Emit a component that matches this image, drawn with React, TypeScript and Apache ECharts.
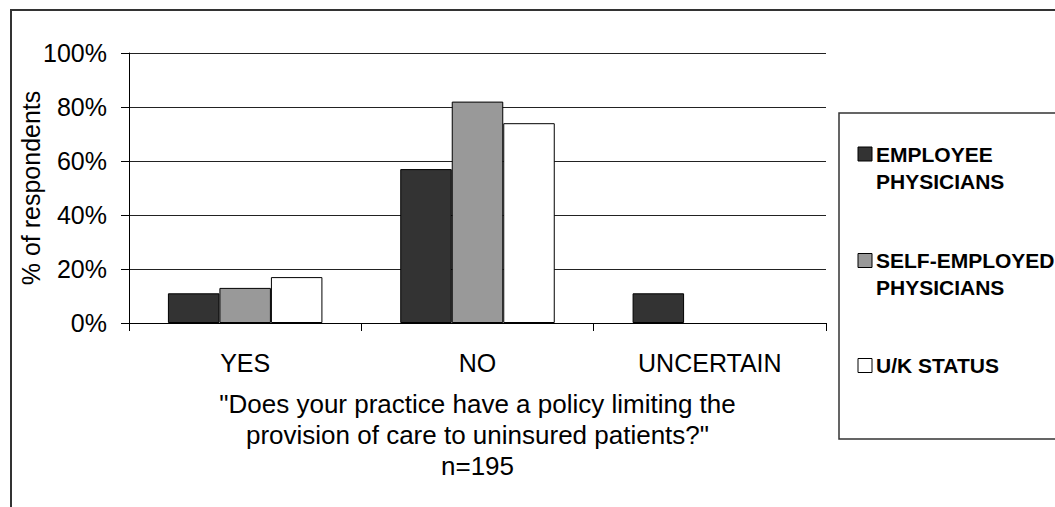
import React, { useEffect, useRef } from "react";
import * as echarts from "echarts";

const categories = ["YES", "NO", "UNCERTAIN"];
const seriesNames = ["EMPLOYEE PHYSICIANS", "SELF-EMPLOYED PHYSICIANS", "U/K STATUS"];
const legendLines = [["EMPLOYEE", "PHYSICIANS"], ["SELF-EMPLOYED", "PHYSICIANS"], ["U/K STATUS"]];
const employeeValues = [11, 57, 11];
const selfEmployedValues = [13, 82, null];
const unknownValues = [17, 74, null];
const yTicks = [0, 20, 40, 60, 80, 100];
const xTitle = '"Does your practice have a policy limiting the\nprovision of care to uninsured patients?"\nn=195';
const yTitle = "% of respondents";

const colors = ["#333333", "#999999", "#ffffff"];
const FONT = "'Liberation Sans', Arial, sans-serif";

export default function App() {
  const ref = useRef<HTMLDivElement>(null);
  useEffect(() => {
    if (!ref.current) return;
    const chart = echarts.init(ref.current, undefined, { renderer: "svg" });
    const values = [employeeValues, selfEmployedValues, unknownValues];

    const legendY = [[154, 181], [260.5, 287.5], [365.5]];
    const legendGraphics: any[] = [];
    legendLines.forEach((lines, i) => {
      legendGraphics.push({
        type: "rect",
        shape: { x: 858, y: legendY[i][0] - 7, width: 14, height: 14 },
        style: { fill: colors[i], stroke: "#000", lineWidth: 1 },
      });
      lines.forEach((t, j) => {
        legendGraphics.push({
          type: "text",
          x: 876,
          y: legendY[i][j],
          style: {
            text: t,
            fill: "#000",
            font: `bold 21px ${FONT}`,
            textAlign: "left",
            textVerticalAlign: "middle",
          },
        });
      });
    });

    chart.setOption({
      animation: false,
      backgroundColor: "#fff",
      textStyle: { fontFamily: FONT },
      grid: { left: 129, right: 229, top: 53, bottom: 184, containLabel: false },
      xAxis: {
        type: "category",
        data: categories,
        axisLine: { lineStyle: { color: "#000", width: 1 } },
        axisTick: { show: true, length: 8, lineStyle: { color: "#000" } },
        axisLabel: { color: "#000", fontSize: 25, margin: 27, fontFamily: FONT },
        name: xTitle,
        nameLocation: "middle",
        nameGap: 65,
        nameMoveOverlap: false,
        nameTextStyle: { color: "#000", fontSize: 26, lineHeight: 31, fontFamily: FONT, align: "center", verticalAlign: "top" },
      },
      yAxis: {
        type: "value",
        min: 0,
        max: 100,
        interval: 20,
        axisLine: { show: true, lineStyle: { color: "#000", width: 1 } },
        axisTick: { show: true, length: 8, lineStyle: { color: "#000" } },
        axisLabel: {
          color: "#000",
          fontSize: 25,
          margin: 22,
          fontFamily: FONT,
          formatter: (v: number) => (yTicks.includes(v) ? `${v}%` : ""),
        },
        splitLine: { show: true, lineStyle: { color: "#222", width: 1 } },
        name: yTitle,
        nameLocation: "middle",
        nameGap: 86,
        nameRotate: 90,
        nameMoveOverlap: false,
        nameTextStyle: { color: "#000", fontSize: 25, fontFamily: FONT },
      },
      series: seriesNames.map((name, i) => ({
        name,
        type: "bar",
        data: values[i],
        barGap: "0%",
        barCategoryGap: "33.5%",
        itemStyle: { color: colors[i], borderColor: "#000", borderWidth: 1 },
      })),
      graphic: [
        {
          type: "rect",
          shape: { x: 11, y: 10, width: 1100, height: 600 },
          style: { fill: "none", stroke: "#333", lineWidth: 2 },
          silent: true,
          z: -1,
        },
        {
          type: "rect",
          shape: { x: 839, y: 113, width: 300, height: 326 },
          style: { fill: "#fff", stroke: "#333", lineWidth: 1.5 },
          silent: true,
        },
        ...legendGraphics,
      ],
    });
    return () => chart.dispose();
  }, []);
  return (
    <div
      ref={ref}
      style={{ position: "fixed", left: 0, top: 0, width: 1055, height: 507, background: "#fff" }}
    />
  );
}
